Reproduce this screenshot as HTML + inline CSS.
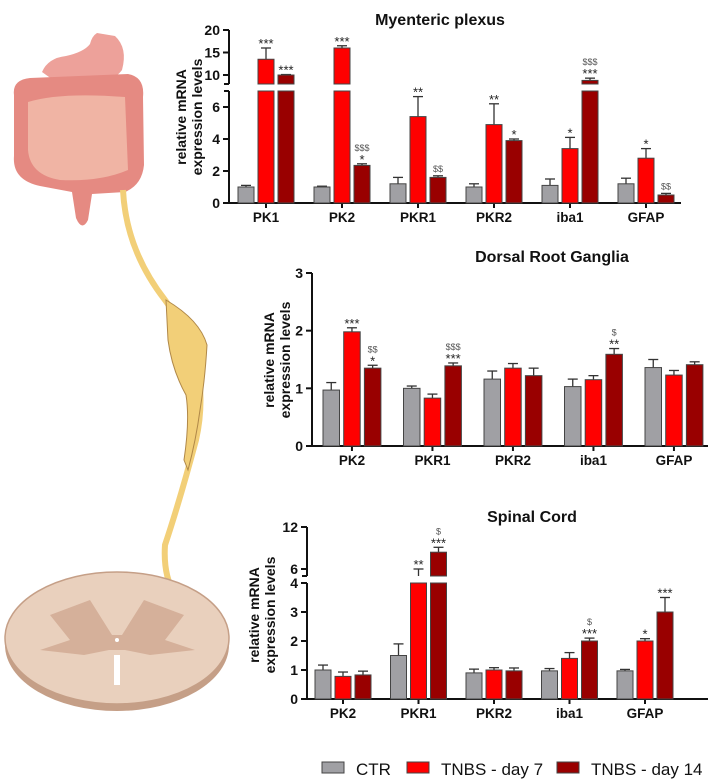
<!DOCTYPE html>
<html><head><meta charset="utf-8"><style>
html,body{margin:0;padding:0;background:#fff;}
svg{display:block;font-family:"Liberation Sans",Arial,sans-serif;}
</style></head><body>
<svg id="fig" width="721" height="783" viewBox="0 0 721 783" xmlns="http://www.w3.org/2000/svg">
<g id="illus">
  <g>
    <path d="M42,72 Q48,58 66,56 Q84,52 90,44 Q92,36 97,33 L115,36 Q128,48 122,70 Q110,86 90,80 Q72,74 56,82 Z" fill="#eda19a"/>
  </g>
  <g>
    <path d="M14,95 Q12,80 30,78 L128,74 Q145,77 143,97 L144,165 Q142,185 125,192 L92,194 L88,220 Q82,232 76,218 L72,192 L40,186 Q12,180 14,156 Z" fill="#e58a82"/>
    <path d="M28,102 Q60,92 125,97 L128,170 Q100,182 60,180 Q30,175 28,150 Z" fill="#f0b4a4"/>
  </g>
  <path d="M123,190 Q126,250 165,300 Q180,320 196,360 Q205,400 196,440 Q180,500 165,545 Q163,575 175,595" fill="none" stroke="#f2cf78" stroke-width="6"/>
  <path d="M166,300 Q200,320 207,345 Q205,380 200,410 Q196,440 188,470 L184,460 Q190,420 186,395 Q172,370 168,340 Z" fill="#f2cf78" stroke="#b08848" stroke-width="1"/>
  <g>
    <ellipse cx="117" cy="645" rx="112" ry="66" fill="#c59f87"/>
    <ellipse cx="117" cy="638" rx="112" ry="66" fill="#e9d0bd" stroke="#c59f87" stroke-width="1.5"/>
    <path d="M50,615 L90,600 L112,635 L122,635 L144,600 L184,615 L165,640 L195,650 L150,655 L125,650 L109,650 L84,655 L40,650 L70,640 Z" fill="#d5b09a"/>
    <circle cx="117" cy="640" r="2" fill="#fff"/>
    <rect x="114" y="655" width="6" height="30" fill="#fff"/>
  </g>
</g>
<g id="charts"></g>
<g id="legend"></g>
</svg>
<script>
const categories1 = ["PK1","PK2","PKR1","PKR2","iba1","GFAP"];
const ctr1 = [1.0,1.0,1.2,1.0,1.1,1.2];
const ctr1Err = [0.1,0.05,0.4,0.2,0.4,0.35];
const d7_1 = [13.5,16,5.4,4.9,3.4,2.8];
const d7_1Err = [2.5,0.5,1.25,1.3,0.7,0.6];
const d14_1 = [10,2.35,1.6,3.9,8.8,0.5];
const d14_1Err = [0.1,0.1,0.1,0.1,0.5,0.1];
const ann1 = [["","***","***"],["","***","$$$\n*"],["","**","$$"],["","**","*"],["","*","$$$\n***"],["","*","$$"]];
const ticks1 = [0,2,4,6,10,15,20];

const categories2 = ["PK2","PKR1","PKR2","iba1","GFAP"];
const ctr2 = [0.97,1.0,1.16,1.03,1.36];
const ctr2Err = [0.13,0.04,0.14,0.13,0.14];
const d7_2 = [1.98,0.83,1.35,1.15,1.23];
const d7_2Err = [0.07,0.07,0.08,0.07,0.08];
const d14_2 = [1.35,1.39,1.22,1.59,1.41];
const d14_2Err = [0.05,0.05,0.13,0.1,0.05];
const ann2 = [["","***","$$\n*"],["","","$$$\n***"],["","",""],["","","$\n**"],["","",""]];
const ticks2 = [0,1,2,3];

const categories3 = ["PK2","PKR1","PKR2","iba1","GFAP"];
const ctr3 = [1.0,1.5,0.9,0.97,0.97];
const ctr3Err = [0.17,0.4,0.13,0.08,0.05];
const d7_3 = [0.78,5.0,1.0,1.4,2.0];
const d7_3Err = [0.15,1.0,0.08,0.2,0.08];
const d14_3 = [0.83,8.4,0.97,2.0,3.0];
const d14_3Err = [0.13,0.7,0.1,0.1,0.5];
const ann3 = [["","",""],["","**","$\n***"],["","",""],["","","$\n***"],["","*","***"]];
const ticks3 = [0,1,2,3,4,6,12];

const legendLabels = ["CTR","TNBS - day 7","TNBS - day 14"];
const colors = ["#a0a0a4","#ff0000","#990000"];
const NS = "http://www.w3.org/2000/svg";
function mk(tag, attrs, parent){const e=document.createElementNS(NS,tag);for(const k in attrs)e.setAttribute(k,attrs[k]);parent.appendChild(e);return e;}

function chart(cfg){
  const g = mk("g",{},document.getElementById("charts"));
  
  
  const segs = cfg.segs;
  function yOf(v){for(const s of segs){if(v>=s.v0&&v<=s.v1)return s.y0+(v-s.v0)*(s.y1-s.y0)/(s.v1-s.v0);}
    const last=segs[segs.length-1]; if(v>last.v1) return last.y1; return segs[0].y0;}
  const t = mk("text",{x:cfg.titleX,y:cfg.titleY,"text-anchor":"middle","font-size":16,"font-weight":"bold",fill:"#111"},g);
  t.textContent = cfg.title;
  
  
  const yt = mk("text",{transform:`translate(${cfg.ytX},${cfg.ytY}) rotate(-90)`,"text-anchor":"middle","font-size":14,"font-weight":"bold",fill:"#111"},g);
  
  
  const t1=mk("tspan",{x:0,dy:-3},yt);t1.textContent="relative mRNA";
  const t2=mk("tspan",{x:0,dy:16},yt);t2.textContent="expression levels";
  for(const s of segs){
    const l = mk("line",{x1:cfg.ax,x2:cfg.ax,y1:s.y0,y2:s.y1,stroke:"#111","stroke-width":2},g);
    
    
  }
  if(segs.length>1){
    for(const y of [segs[0].y1, segs[1].y0]){
      const l = mk("line",{x1:cfg.ax-5,x2:cfg.ax,y1:y,y2:y,stroke:"#111","stroke-width":2},g);
      
      
    }
  }
  const xa = mk("line",{x1:cfg.ax-1,x2:cfg.axEnd,y1:segs[0].y0,y2:segs[0].y0,stroke:"#111","stroke-width":2},g);
  
  
  for(const v of cfg.ticks){
    const y=yOf(v);
    const tl = mk("line",{x1:cfg.ax-6,x2:cfg.ax,y1:y,y2:y,stroke:"#111","stroke-width":2},g);
    
    
    const tx = mk("text",{x:cfg.ax-9,y:y+5,"text-anchor":"end","font-size":14,"font-weight":"bold",fill:"#111"},g);
    tx.textContent=v;
    
    
  }
  cfg.cats.forEach((c,i)=>{
    const gx = cfg.x0 + cfg.gs*i;
    const cx = gx + cfg.step + cfg.bw/2;
    const tk = mk("line",{x1:cx,x2:cx,y1:segs[0].y0,y2:segs[0].y0+5,stroke:"#111","stroke-width":2},g);
    
    
    const lb = mk("text",{x:cx,y:segs[0].y0+19,"text-anchor":"middle","font-size":13.5,"font-weight":"bold",fill:"#111"},g);
    lb.textContent=c;
    
    
    cfg.series.forEach((ser,j)=>{
      const v=ser.vals[i], e=ser.errs[i];
      const bx = gx + cfg.step*j;
      const mx = bx + cfg.bw/2;
      const ytop = yOf(v+e);
      const el = mk("line",{x1:mx,x2:mx,y1:yOf(v),y2:ytop,stroke:"#333","stroke-width":1.3},g);
      
      
      const ec = mk("line",{x1:mx-5,x2:mx+5,y1:ytop,y2:ytop,stroke:"#333","stroke-width":1.3},g);
      
      
      for(const s of segs){
        if(v<=s.v0) continue;
        const top = yOf(Math.min(v,s.v1));
        const r = mk("rect",{x:bx,y:top,width:cfg.bw,height:Math.max(0,s.y0-top),fill:colors[j],stroke:"#444","stroke-width":1},g);
        
        
      }
      const a = cfg.ann[i][j];
      if(a){
        const lines=a.split("\n");
        let y = ytop-4;
        for(let k=lines.length-1;k>=0;k--){
          const isDollar = lines[k].includes("$");
          const at = mk("text",{x:mx,y:isDollar?y:y+4,"text-anchor":"middle","font-size":isDollar?9:13,fill:isDollar?"#555":"#222"},g);
          at.textContent=lines[k];
          
          
          y -= isDollar?10:9;
        }
      }
    });
  });
}

chart({name:"myenteric-plexus-chart",title:"Myenteric plexus",titleX:440,titleY:25,ytX:189,ytY:117,
  ax:229,axEnd:681,segs:[{v0:0,v1:7,y0:203,y1:91},{v0:8,v1:20,y0:84,y1:30}],ticks:ticks1,
  cats:categories1,x0:238,gs:76,step:20,bw:16,ann:ann1,
  series:[{vals:ctr1,errs:ctr1Err},{vals:d7_1,errs:d7_1Err},{vals:d14_1,errs:d14_1Err}]});
chart({name:"dorsal-root-ganglia-chart",title:"Dorsal Root Ganglia",titleX:552,titleY:262,ytX:277,ytY:360,
  ax:312,axEnd:708,segs:[{v0:0,v1:3,y0:446,y1:273}],ticks:ticks2,
  cats:categories2,x0:323,gs:80.5,step:20.7,bw:16.5,ann:ann2,
  series:[{vals:ctr2,errs:ctr2Err},{vals:d7_2,errs:d7_2Err},{vals:d14_2,errs:d14_2Err}]});
chart({name:"spinal-cord-chart",title:"Spinal Cord",titleX:532,titleY:522,ytX:262,ytY:615,
  ax:307,axEnd:708,segs:[{v0:0,v1:4,y0:699,y1:583},{v0:5,v1:12,y0:576,y1:527}],ticks:ticks3,
  cats:categories3,x0:315,gs:75.5,step:20,bw:16,ann:ann3,
  series:[{vals:ctr3,errs:ctr3Err},{vals:d7_3,errs:d7_3Err},{vals:d14_3,errs:d14_3Err}]});

const lg = document.getElementById("legend");
const lx = [322,407,557];
legendLabels.forEach((l,i)=>{
  const r = mk("rect",{x:lx[i],y:762,width:22,height:11,fill:colors[i],stroke:"#444","stroke-width":1},lg);
  
  
  const t = mk("text",{x:lx[i]+34,y:775,"font-size":17,fill:"#111"},lg);
  t.textContent=l;
  
  
});
</script>
</body></html>
